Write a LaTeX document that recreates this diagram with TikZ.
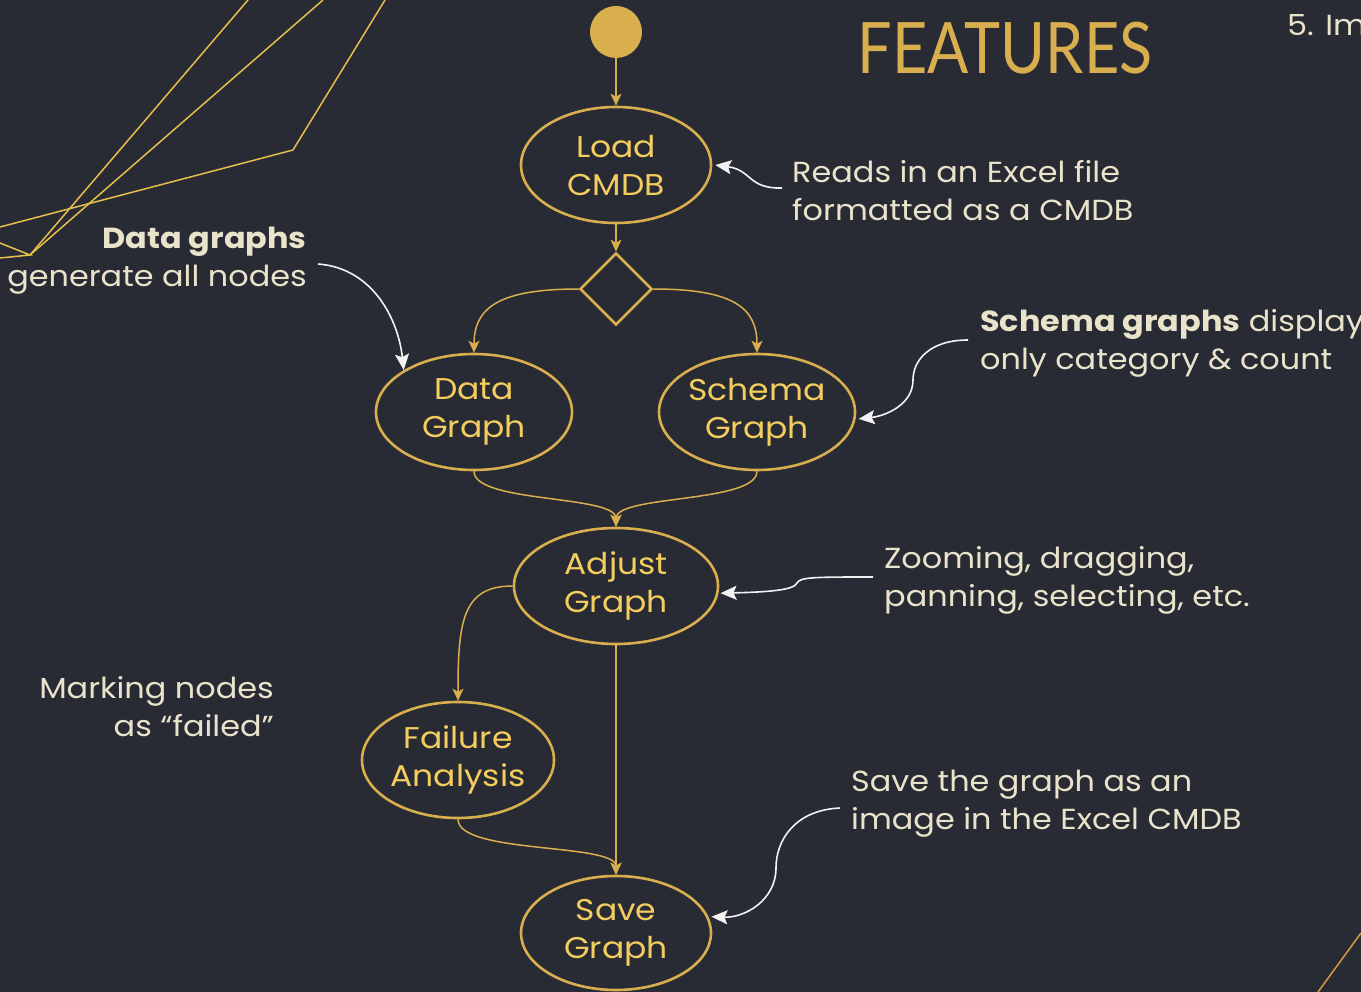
\documentclass[tikz,border=0pt]{standalone}
\usepackage{fontspec}
\setmainfont{Poppins}[FakeStretch=1.1]
\newfontfamily\titlefont{Lato}
\usetikzlibrary{arrows.meta,shapes.geometric}
\definecolor{bg}{HTML}{292B34}
\definecolor{gold}{HTML}{D9AE4E}
\definecolor{goldtext}{HTML}{F3CD5E}
\definecolor{cream}{HTML}{EAE3CB}
\definecolor{arrw}{HTML}{F2F2F2}
\definecolor{deco}{HTML}{E6BE4C}
\definecolor{decob}{HTML}{D39A3E}
\begin{document}
\begin{tikzpicture}[x=1pt,y=-1pt,
  state/.style={ellipse, draw=gold, line width=2.6pt, text=goldtext, inner sep=0pt, align=center, font=\fontsize{30}{38}\selectfont},
  flow/.style={draw=gold, line width=1.5pt, -{Stealth[length=12pt,width=11pt,inset=3pt]}},
  note/.style={text=cream, inner sep=0pt, font=\fontsize{29}{38}\selectfont},
  callout/.style={draw=arrw, line width=1.6pt, -{Stealth[length=16pt,width=14pt,inset=3pt]}},
  decoline/.style={draw=deco, line width=1.5pt}]
\useasboundingbox (0,0) rectangle (1361,992);
\fill[bg] (0,0) rectangle (1361,992);
\clip (0,0) rectangle (1361,992);
% decorative lines
\draw[decoline] (248,0) -- (30,255);
\draw[decoline] (323,0) -- (30,255);
\draw[decoline] (385,0) -- (293,150) -- (0,227);
\draw[decoline] (0,243) -- (30,255) -- (0,258);
\draw[decoline, draw=decob] (1361,933) -- (1318,992);
% title
\node[text=gold, inner sep=0pt, font=\titlefont\fontsize{71}{71}\selectfont] (title) at (1005,48) {\scalebox{0.86}[1]{FEATURES}};
\node[note, anchor=west] (five) at (1287,25) {5. Im};
% flow nodes
\node[circle, fill=gold, minimum size=52pt, inner sep=0pt] (start) at (616,32) {};
\node[state, minimum width=190pt, minimum height=116pt] (load) at (616,165) {Load\\CMDB};
\node[diamond, draw=gold, line width=2.6pt, minimum width=72pt, minimum height=72pt, inner sep=0pt] (dec) at (616,289) {};
\node[state, minimum width=196pt, minimum height=116pt] (data) at (474,412) {Data\\Graph};
\node[state, minimum width=196pt, minimum height=116pt] (schema) at (757,412) {Schema\\Graph};
\node[state, minimum width=204pt, minimum height=116pt] (adjust) at (616,586) {Adjust\\Graph};
\node[state, minimum width=192pt, minimum height=116pt] (fail) at (458,760) {Failure\\Analysis};
\node[state, minimum width=190pt, minimum height=114pt] (save) at (616,933) {Save\\Graph};
% flow connectors
\draw[flow] (start) -- (load);
\draw[flow] (load) -- (dec);
\draw[flow] (dec.west) .. controls +(-80,0) and +(0,-45) .. (data.north);
\draw[flow] (dec.east) .. controls +(80,0) and +(0,-45) .. (schema.north);
\draw[flow] (data.south) .. controls +(0,32) and +(0,-32) .. (adjust.north);
\draw[flow] (schema.south) .. controls +(0,32) and +(0,-32) .. (adjust.north);
\draw[flow] (adjust.west) .. controls +(-50,0) and +(0,-80) .. (fail.north);
\draw[flow] (adjust) -- (save);
\draw[flow] (fail.south) .. controls +(0,35) and +(0,-32) .. (save.north);
% notes
\node[note, anchor=west, align=left] (n1) at (792,191) {Reads in an Excel file\\formatted as a CMDB};
\coordinate (c1) at (782,188);
\draw[callout] (c1) .. controls (748,189) and (752,170) .. ([xshift=3pt]load.east);
\node[note, anchor=east, align=right] (n2) at (307,261) {\textbf{Data graphs}\\generate all nodes};
\coordinate (c2) at (318,264);
\draw[callout] (c2) .. controls (372,268) and (398,318) .. (data.north west);
\node[note, anchor=west, align=left] (n3) at (980,343) {\textbf{Schema graphs} display\\only category \& count};
\coordinate (c3) at (968,340);
\draw[callout] (c3) .. controls (930,340) and (913,360) .. (913,380) .. controls (913,405) and (885,416) .. ([xshift=3pt]schema.-4);
\node[note, anchor=west, align=left] (n4) at (884,580) {Zooming, dragging,\\panning, selecting, etc.};
\coordinate (c4) at (873,577);
\draw[callout] (c4) .. controls (815,577) and (800,577) .. (797,583) .. controls (794,590) and (770,592) .. ([xshift=2pt]adjust.-4);
\node[note, anchor=west, align=left] (n5) at (851,804) {Save the graph as an\\image in the Excel CMDB};
\coordinate (c5) at (840,808);
\draw[callout] (c5) .. controls (795,810) and (776,840) .. (776,868) .. controls (776,900) and (745,918) .. ([xshift=3pt]save.10);
\node[note, anchor=east, align=right] (n6) at (274,707) {Marking nodes\\as “failed”};
\end{tikzpicture}
\end{document}
